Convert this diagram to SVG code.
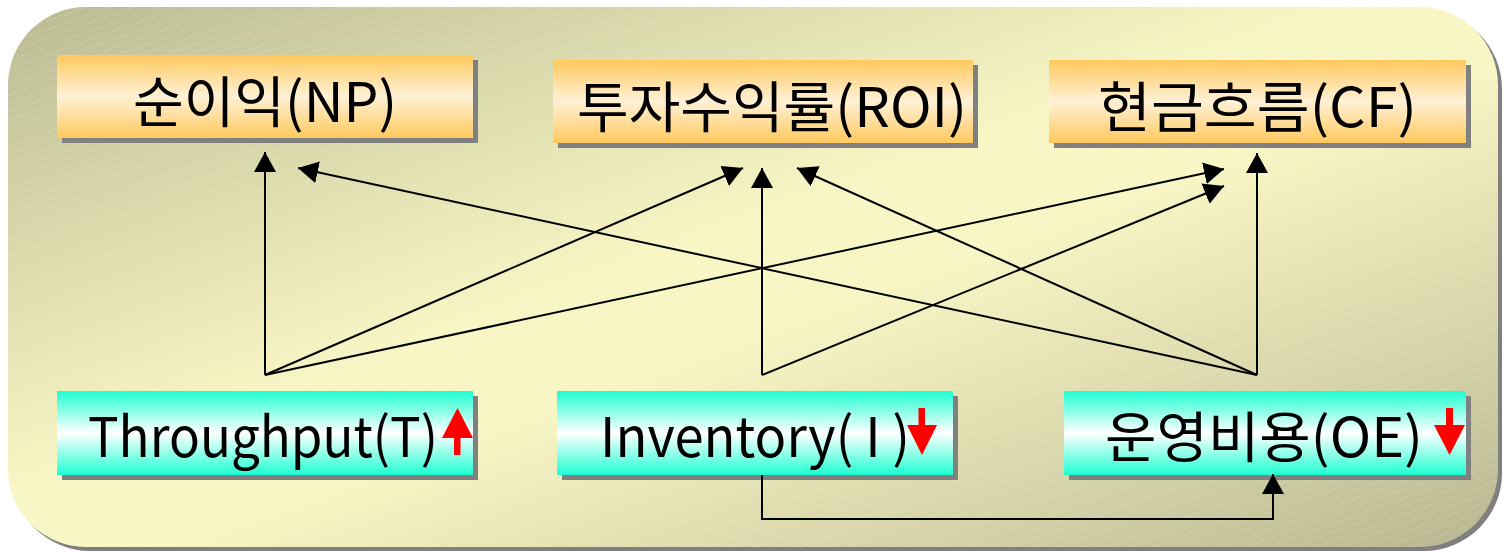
<svg xmlns="http://www.w3.org/2000/svg" width="1506" height="554" viewBox="0 0 1506 554">
  <defs>
    <linearGradient id="bg" x1="0" y1="0" x2="1" y2="1">
      <stop offset="0" stop-color="#BABA92"/>
      <stop offset="0.45" stop-color="#F8F6C4"/>
      <stop offset="0.55" stop-color="#F8F6C4"/>
      <stop offset="1" stop-color="#B8B690"/>
    </linearGradient>
    <linearGradient id="orange" x1="0" y1="0" x2="0" y2="1">
      <stop offset="0" stop-color="#FFC95E"/>
      <stop offset="0.5" stop-color="#FFF1D6"/>
      <stop offset="1" stop-color="#FFC95E"/>
    </linearGradient>
    <linearGradient id="cyan" x1="0" y1="0" x2="0" y2="1">
      <stop offset="0" stop-color="#1EFFD2"/>
      <stop offset="0.5" stop-color="#FFFFFF"/>
      <stop offset="1" stop-color="#1EFFD2"/>
    </linearGradient>
    <pattern id="hatch" width="40" height="8" patternUnits="userSpaceOnUse" patternTransform="rotate(-20)">
      <line x1="0" y1="4" x2="40" y2="4" stroke="#FFFFFF" stroke-opacity="0.25" stroke-width="1" stroke-dasharray="3 2"/>
    </pattern>
    <marker id="ah" markerUnits="userSpaceOnUse" markerWidth="22" markerHeight="22" refX="20" refY="11" orient="auto" viewBox="0 0 22 22">
      <path d="M0,0 L20,11 L0,22 z" fill="#000"/>
    </marker>
  </defs>
  <style>
    .shadow { fill: #808080; }
    .top { fill: url(#orange); }
    .bot { fill: url(#cyan); }
    .lbl { font-family: "Noto Sans CJK KR", "Liberation Sans", sans-serif; font-size: 55px; fill: #000; }
    .conn { stroke: #000; stroke-width: 2; fill: none; marker-end: url(#ah); }
    .red { fill: #FF0000; }
  </style>

  <g id="background">
    <rect x="12" y="11" width="1490" height="540" rx="78" ry="78" fill="#808080"/>
    <rect x="8" y="7" width="1490" height="540" rx="78" ry="78" fill="url(#bg)"/>
    <rect x="8" y="7" width="1490" height="540" rx="78" ry="78" fill="url(#hatch)"/>
  </g>

  <g id="node-np">
    <rect class="shadow" x="62" y="60" width="416" height="83"/>
    <rect class="top" x="57" y="55" width="416" height="83"/>
    <text class="lbl" x="133" y="122" textLength="264" lengthAdjust="spacingAndGlyphs">순이익(NP)</text>
  </g>
  <g id="node-roi">
    <rect class="shadow" x="558" y="65" width="420" height="83"/>
    <rect class="top" x="553" y="60" width="420" height="83"/>
    <text class="lbl" x="577" y="127" textLength="390" lengthAdjust="spacingAndGlyphs">투자수익률(ROI)</text>
  </g>
  <g id="node-cf">
    <rect class="shadow" x="1054" y="65" width="417" height="83"/>
    <rect class="top" x="1049" y="60" width="417" height="83"/>
    <text class="lbl" x="1098" y="127" textLength="319" lengthAdjust="spacingAndGlyphs">현금흐름(CF)</text>
  </g>

  <g id="node-t">
    <rect class="shadow" x="62" y="396" width="416" height="84"/>
    <rect class="bot" x="57" y="391" width="416" height="84"/>
    <text class="lbl" x="88" y="457" textLength="350" lengthAdjust="spacingAndGlyphs">Throughput(T)</text>
    <path class="red" d="M442,438 L457.5,408 L473,438 L460.5,438 L460.5,455 L454,455 L454,438 z"/>
  </g>
  <g id="node-i">
    <rect class="shadow" x="562" y="396" width="396" height="84"/>
    <rect class="bot" x="557" y="391" width="396" height="84"/>
    <text class="lbl" x="600" y="457" textLength="310" lengthAdjust="spacingAndGlyphs">Inventory( I )</text>
    <path class="red" d="M918.5,408 L925,408 L925,425 L937,425 L922,455 L907,425 L918.5,425 z"/>
  </g>
  <g id="node-oe">
    <rect class="shadow" x="1069" y="396" width="402" height="84"/>
    <rect class="bot" x="1064" y="391" width="402" height="84"/>
    <text class="lbl" x="1105" y="457" textLength="318" lengthAdjust="spacingAndGlyphs">운영비용(OE)</text>
    <path class="red" d="M1446,408 L1453,408 L1453,425 L1465,425 L1449.5,455 L1434,425 L1446,425 z"/>
  </g>

  <g id="connectors">
    <line class="conn" x1="265" y1="375" x2="265" y2="152"/>
    <line class="conn" x1="265" y1="375" x2="743" y2="168"/>
    <line class="conn" x1="265" y1="375" x2="1224" y2="169"/>
    <line class="conn" x1="762" y1="375" x2="762" y2="168"/>
    <line class="conn" x1="762" y1="375" x2="1224" y2="186"/>
    <line class="conn" x1="1257" y1="375" x2="1257" y2="153"/>
    <line class="conn" x1="1257" y1="375" x2="797" y2="168"/>
    <line class="conn" x1="1257" y1="375" x2="298" y2="168"/>
    <polyline class="conn" points="762,475 762,519 1273,519 1273,474"/>
  </g>
</svg>
